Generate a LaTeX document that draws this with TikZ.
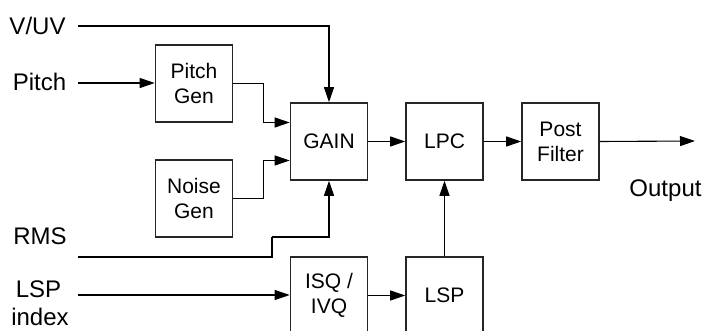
\documentclass[tikz,border=0pt]{standalone}
\usepackage{fontspec}
\setmainfont{Liberation Sans}
\usetikzlibrary{arrows.meta}
\begin{document}
\begin{tikzpicture}[x=1pt,y=-1pt,
  blk/.style={draw=black!85,line width=1.6pt,minimum width=77pt,minimum height=77pt,inner sep=0pt,align=center,font=\fontsize{21}{25}\selectfont},
  lbl/.style={anchor=base,inner sep=0pt,font=\fontsize{24}{28}\selectfont},
  conn/.style={line width=1.1pt,draw=black},
  arr/.style={conn,-{Triangle[length=15pt,width=10pt]}}]
\useasboundingbox (0,0) rectangle (707,331);
\clip (0,0) rectangle (707,331);
\fill[white] (0,0) rectangle (707,331);
% labels
\node[lbl] (vuv) at (37.5,35) {V/UV};
\node[lbl] (pitch) at (39.5,91) {Pitch};
\node[lbl] (rms) at (40,245) {RMS};
\node[lbl] (lspi) at (38.5,297) {LSP};
\node[lbl] (idx) at (40,325) {index};
\node[lbl] (out) at (665.5,197) {Output};
% blocks
\node[blk] (pgen) at (194,83.5) {Pitch\\Gen};
\node[blk] (ngen) at (194,198.5) {Noise\\Gen};
\node[blk] (gain) at (329,141.5) {GAIN};
\node[blk] (lpc) at (444.5,141.5) {LPC};
\node[blk] (post) at (560.5,141.5) {Post\\Filter};
\node[blk] (isq) at (329,295.5) {ISQ /\\IVQ};
\node[blk] (lsp) at (444.5,295.5) {LSP};
% connector end points
\coordinate (vuvin) at (78,26);
\coordinate (pin) at (78,83);
\coordinate (rmsin) at (78,257);
\coordinate (rmsk) at (272,237);
\coordinate (lspin) at (78,295);
\coordinate (outend) at (695,141);
% connectors
\draw[arr] (vuvin) -| (gain.north);
\draw[arr] (pin) -- (pin -| pgen.west);
\draw[arr] (pgen.east) -- ++(30,0) |- ([yshift=19pt]gain.west);
\draw[arr] (ngen.east) -- ++(30,0) |- ([yshift=-19pt]gain.west);
\draw[conn] (rmsin) -| (rmsk);
\draw[arr] (rmsk) -| (gain.south);
\draw[arr] (gain.east) -- (lpc.west);
\draw[arr] (lpc.east) -- (post.west);
\draw[arr] (post.east) -- (outend);
\draw[arr] (lspin) -- (lspin -| isq.west);
\draw[arr] (isq.east) -- (isq.east -| lsp.west);
\draw[arr] (lsp.north) -- (lpc.south);
\end{tikzpicture}
\end{document}
